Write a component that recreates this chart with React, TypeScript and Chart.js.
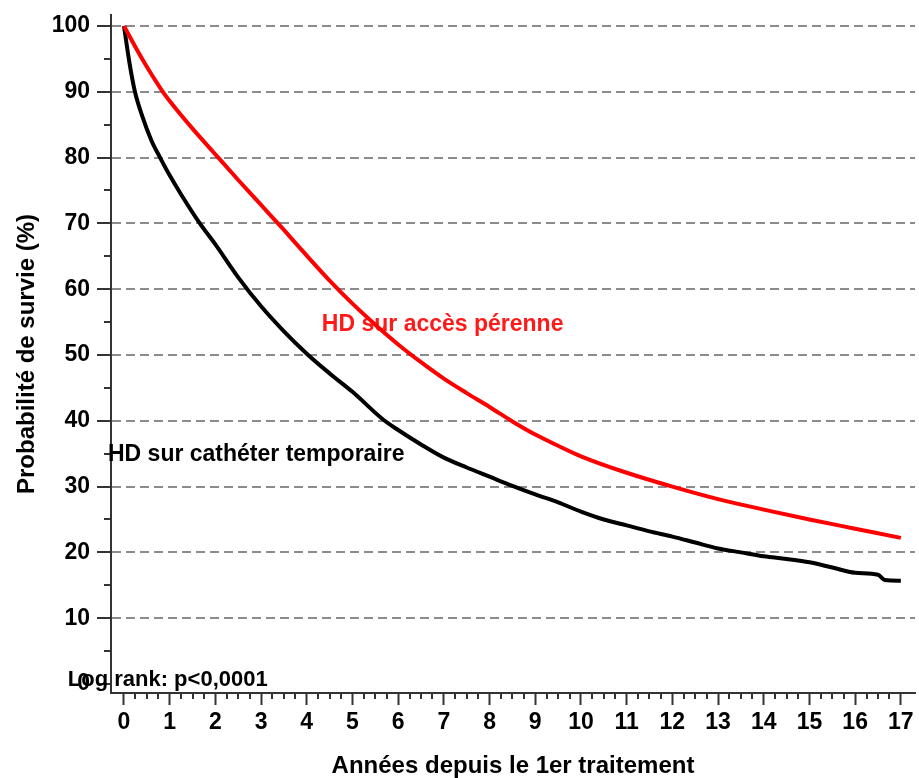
import React, { useEffect, useRef } from "react";
import { Chart, registerables } from "chart.js";

Chart.register(...registerables);

// Années depuis le 1er traitement
const redYears = [0, 0.25, 0.5, 0.85, 1, 1.5, 2, 2.5, 3, 3.5, 4, 4.5, 5, 5.5, 6, 6.5, 7, 7.5, 8, 8.5, 9, 9.5, 10, 11, 12, 13, 14, 15, 16, 17];
// HD sur accès pérenne (%)
const redSurvival = [100, 96.8, 93.8, 90.0, 88.6, 84.4, 80.5, 76.6, 72.8, 69.0, 65.1, 61.3, 57.8, 54.6, 51.6, 48.9, 46.4, 44.2, 42.1, 39.9, 37.9, 36.2, 34.6, 32.1, 30.0, 28.1, 26.5, 25.0, 23.6, 22.2];

const blackYears = [0, 0.05, 0.12, 0.24, 0.4, 0.6, 0.79, 1, 1.25, 1.66, 2, 2.5, 3, 3.5, 4, 4.5, 5, 5.67, 6, 6.5, 7, 7.5, 8, 8.5, 9, 9.5, 10, 10.5, 11, 11.5, 12, 12.5, 13, 13.5, 14, 14.5, 15, 15.5, 16, 16.5, 16.65, 17];
// HD sur cathéter temporaire (%)
const blackSurvival = [100, 97.6, 94.4, 90, 86.3, 82.6, 80, 77.3, 74.4, 70, 66.8, 61.8, 57.4, 53.6, 50.2, 47.2, 44.4, 40.2, 38.6, 36.4, 34.4, 32.9, 31.5, 30.1, 28.8, 27.6, 26.2, 25.0, 24.1, 23.2, 22.4, 21.5, 20.6, 20.0, 19.4, 19.0, 18.5, 17.7, 16.9, 16.6, 15.8, 15.7];

const seriesLabels = ["HD sur accès pérenne", "HD sur cathéter temporaire"];
const seriesColors = ["#ff0000", "#000000"];

const xTitle = "Années depuis le 1er traitement";
const yTitle = "Probabilité de survie (%)";
const logRankText = "Log rank: p<0,0001";

// annotation anchors in data units [x, y]
const annotationTexts = [seriesLabels[0], seriesLabels[1], logRankText];
const annotationAnchors: [number, number][] = [[4.33, 54.6], [-0.35, 34.9], [-1.23, 0.6]];
const annotationColors = ["#ff1a1a", "#000000", "#000000"];

const FONT = "'Liberation Sans', Arial, sans-serif";

const minorTicksPlugin = {
  id: "minorTicks",
  beforeDatasetsDraw(chart: any) {
    const { ctx } = chart;
    const xs = chart.scales.x;
    const ys = chart.scales.y;
    ctx.save();
    ctx.strokeStyle = "#333333";
    ctx.lineWidth = 2;
    ctx.beginPath();
    for (let i = 0; i <= 17 * 4; i++) {
      if (i % 4 === 0) continue;
      const px = Math.round(xs.getPixelForValue(i / 4));
      ctx.moveTo(px, ys.bottom);
      ctx.lineTo(px, ys.bottom + 6);
    }
    for (let v = 5; v < 100; v += 10) {
      const py = Math.round(ys.getPixelForValue(v));
      ctx.moveTo(xs.left - 7, py);
      ctx.lineTo(xs.left, py);
    }
    ctx.stroke();
    // annotations
    ctx.textBaseline = "middle";
    ctx.textAlign = "left";
    annotationTexts.forEach((t, i) => {
      const [ax, ay] = annotationAnchors[i];
      ctx.font = `bold ${i === 2 ? 22 : 23}px ${FONT}`;
      ctx.fillStyle = annotationColors[i];
      ctx.fillText(t, xs.getPixelForValue(ax), ys.getPixelForValue(ay));
    });
    ctx.restore();
  },
};

export default function App() {
  const ref = useRef<HTMLCanvasElement | null>(null);
  useEffect(() => {
    if (!ref.current) return;
    const chart = new Chart(ref.current, {
      type: "line",
      data: {
        datasets: [
          {
            label: seriesLabels[0],
            data: redYears.map((x, i) => ({ x, y: redSurvival[i] })),
            borderColor: seriesColors[0],
            borderWidth: 4,
            pointRadius: 0,
            cubicInterpolationMode: "monotone",
            fill: false,
          },
          {
            label: seriesLabels[1],
            data: blackYears.map((x, i) => ({ x, y: blackSurvival[i] })),
            borderColor: seriesColors[1],
            borderWidth: 4,
            pointRadius: 0,
            cubicInterpolationMode: "monotone",
            fill: false,
          },
        ],
      },
      options: {
        animation: false,
        responsive: false,
        maintainAspectRatio: false,
        devicePixelRatio: 1,
        layout: { padding: { top: 15, right: 4, left: 0, bottom: 0 } },
        plugins: { legend: { display: false }, tooltip: { enabled: false } },
        scales: {
          x: {
            type: "linear",
            min: -0.284,
            max: 17.31,
            afterFit: (s: any) => {
              s.height = 85;
            },
            ticks: {
              stepSize: 1,
              includeBounds: false,
              autoSkip: false,
              maxRotation: 0,
              maxTicksLimit: 100,
              padding: 4,
              color: "#000000",
              font: { family: FONT, size: 23, weight: "bold" },
            },
            grid: {
              display: true,
              drawOnChartArea: false,
              drawTicks: true,
              tickLength: 12,
              tickColor: "#333333",
              tickWidth: 2,
            },
            border: { display: true, color: "#333333", width: 2 },
            title: {
              display: true,
              text: xTitle,
              color: "#000000",
              font: { family: FONT, size: 24, weight: "bold", lineHeight: 1 },
              padding: { top: 0, bottom: 0 },
            },
          },
          y: {
            type: "linear",
            min: -1.37,
            max: 101.67,
            afterFit: (s: any) => {
              s.width = 111;
            },
            ticks: {
              stepSize: 10,
              includeBounds: false,
              autoSkip: false,
              maxTicksLimit: 100,
              padding: 7,
              color: "#000000",
              font: { family: FONT, size: 23, weight: "bold", lineHeight: 0.6 },
            },
            grid: {
              display: true,
              drawOnChartArea: true,
              drawTicks: true,
              tickLength: 14,
              color: (c: any) => (c.tick && c.tick.value === 0 ? "rgba(0,0,0,0)" : "#8c8c8c"),
              lineWidth: 2,
              tickColor: "#333333",
              tickWidth: 2,
            },
            border: { display: true, color: "#333333", width: 2, dash: [9, 5] },
            title: {
              display: true,
              text: yTitle,
              color: "#000000",
              font: { family: FONT, size: 24, weight: "bold" },
              padding: { top: 13, bottom: 0 },
            },
          },
        },
      },
      plugins: [minorTicksPlugin],
    } as any);
    return () => chart.destroy();
  }, []);
  return (
    <div style={{ position: "fixed", left: 0, top: 0, width: 919, height: 778, background: "#ffffff" }}>
      <canvas ref={ref} width={919} height={778} style={{ display: "block" }} />
    </div>
  );
}
